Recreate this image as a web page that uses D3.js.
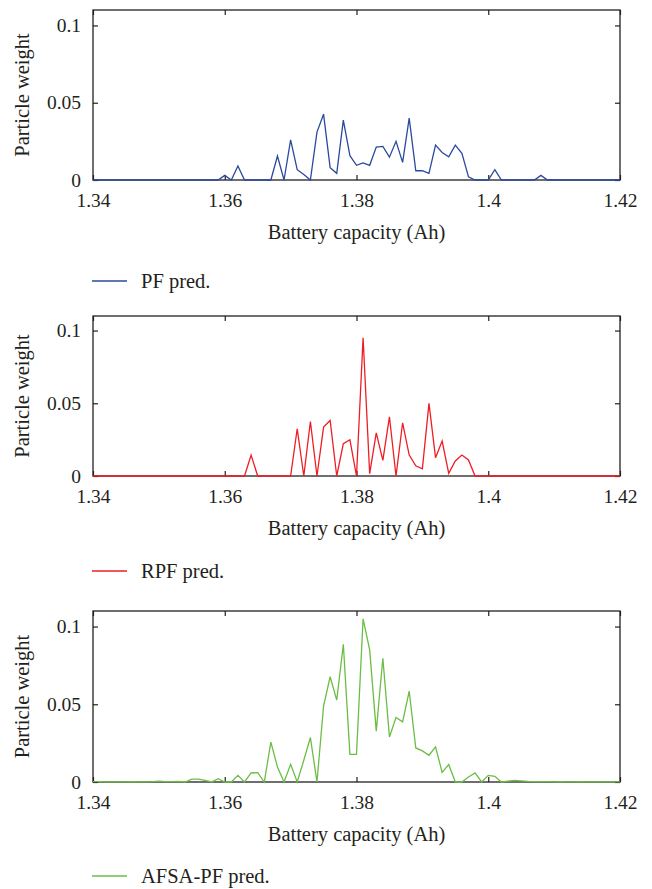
<!DOCTYPE html>
<html>
<head>
<meta charset="utf-8">
<script src="https://cdn.jsdelivr.net/npm/d3@7"></script>
<style>
  body { margin: 0; background: #fff; }
  text { font-family: "Liberation Serif", "DejaVu Serif", serif; fill: #231f20; }
</style>
</head>
<body>
<script>
// Particle weights, one value per 0.001 Ah from 1.340 to 1.420
var capStart = 1.34, capStep = 0.001;

var pfWeight = [
  0, 0, 0, 0, 0, 0, 0, 0, 0, 0,
  0, 0, 0, 0, 0, 0, 0, 0, 0, 0,
  0.003, 0, 0.009, 0, 0, 0, 0, 0, 0.0155, 0,
  0.026, 0.0067, 0.0035, 0, 0.031, 0.0426, 0.008, 0.0043, 0.0387, 0.0157,
  0.0095, 0.011, 0.0095, 0.0213, 0.0217, 0.0148, 0.025, 0.0114, 0.040, 0.006,
  0.006, 0.0043, 0.0226, 0.0178, 0.015, 0.0226, 0.0172, 0.002, 0, 0,
  0, 0.0067, 0, 0, 0, 0, 0, 0, 0.003, 0,
  0, 0, 0, 0, 0, 0, 0, 0, 0, 0, 0
];

var rpfWeight = [
  0, 0, 0, 0, 0, 0, 0, 0, 0, 0,
  0, 0, 0, 0, 0, 0, 0, 0, 0, 0,
  0, 0, 0, 0, 0.0144, 0, 0, 0, 0, 0,
  0, 0.0325, 0, 0.0375, 0, 0.0336, 0.0382, 0, 0.0222, 0.0249,
  0, 0.095, 0.0016, 0.0297, 0.0108, 0.0407, 0, 0.0366, 0.0144, 0.007,
  0.005, 0.0499, 0.0126, 0.024, 0.0018, 0.0103, 0.0144, 0.011, 0, 0,
  0, 0, 0, 0, 0, 0, 0, 0, 0, 0,
  0, 0, 0, 0, 0, 0, 0, 0, 0, 0, 0
];

var afsaWeight = [
  0.0002, 0.0002, 0.0001, 0.0001, 0.0001, 0.0001, 0.0002, 0.0001, 0.0001, 0.0002,
  0.0005, 0.0002, 0.0003, 0.0004, 0, 0.0019, 0.0019, 0.001, 0, 0.0021,
  0, 0, 0.0043, 0, 0.0058, 0.006, 0, 0.0256, 0.0097, 0,
  0.0114, 0, 0.014, 0.0286, 0, 0.0488, 0.0677, 0.0527, 0.0886, 0.0178,
  0.0178, 0.105, 0.085, 0.0327, 0.0796, 0.029, 0.0415, 0.0387, 0.0585, 0.0219,
  0.02, 0.0172, 0.0226, 0.0062, 0.0112, 0, 0, 0.0032, 0.0058, 0,
  0.0043, 0.0037, 0, 0.0005, 0.001, 0.0007, 0.0004, 0.0003, 0.0002, 0.0002,
  0.0001, 0.0002, 0.0001, 0.0001, 0.0002, 0.0001, 0.0001, 0.0001, 0.0001, 0.0001, 0.0001
];

var xTicks = [1.34, 1.36, 1.38, 1.4, 1.42];
var yTicks = [0, 0.05, 0.1];
var seriesNames = ["PF pred.", "RPF pred.", "AFSA-PF pred."];

var width = 652, height = 889;

// one panel per filter
var panels = [
  { name: seriesNames[0], values: pfWeight,   color: "#2b4a9e", top: 10,  bottom: 180, legendY: 281 },
  { name: seriesNames[1], values: rpfWeight,  color: "#ee1d23", top: 316, bottom: 476, legendY: 571 },
  { name: seriesNames[2], values: afsaWeight, color: "#6cbd45", top: 611, bottom: 782, legendY: 876 }
];

var svg = d3.select("body").append("svg")
    .attr("width", width)
    .attr("height", height);

var x = d3.scaleLinear()
    .domain([1.34, 1.42])
    .range([93, 620]);

var tickLen = 5;

panels.forEach(function(p) {
  var data = p.values.map(function(v, i) { return { cap: capStart + i * capStep, w: v }; });

  var y = d3.scaleLinear()
      .domain([0, 0.11])
      .range([p.bottom, p.top]);

  var g = svg.append("g");

  // bottom axis: inward ticks, labels below
  var xAxis = g.append("g")
      .attr("transform", "translate(0," + p.bottom + ")")
      .call(d3.axisBottom(x).tickValues(xTicks).tickSize(-tickLen).tickPadding(13)
        .tickFormat(function(d) { return String(+d.toFixed(2)); }));
  xAxis.select(".domain").remove();
  xAxis.selectAll("text").style("font-size", "19.5px").attr("font-family", null);

  // top ticks
  var topAxis = g.append("g")
      .attr("transform", "translate(0," + p.top + ")")
      .call(d3.axisTop(x).tickValues(xTicks).tickSize(-tickLen).tickFormat(""));
  topAxis.select(".domain").remove();

  // left axis
  var yAxis = g.append("g")
      .attr("transform", "translate(" + x.range()[0] + ",0)")
      .call(d3.axisLeft(y).tickValues(yTicks).tickSize(-tickLen).tickPadding(tickLen + 7)
        .tickFormat(function(d) { return String(d); }));
  yAxis.select(".domain").remove();
  yAxis.selectAll("text").style("font-size", "19.5px").attr("font-family", null);

  // right ticks
  var rAxis = g.append("g")
      .attr("transform", "translate(" + x.range()[1] + ",0)")
      .call(d3.axisRight(y).tickValues(yTicks).tickSize(-tickLen).tickFormat(""));
  rAxis.select(".domain").remove();

  g.selectAll(".tick line").attr("stroke", "#231f20").attr("stroke-width", 1.2);

  // frame
  g.append("rect")
      .attr("x", x.range()[0])
      .attr("y", p.top)
      .attr("width", x.range()[1] - x.range()[0])
      .attr("height", p.bottom - p.top)
      .attr("fill", "none")
      .attr("stroke", "#231f20")
      .attr("stroke-width", 1.3);

  // the series
  var line = d3.line()
      .x(function(d) { return x(d.cap); })
      .y(function(d) { return y(d.w); });

  g.append("path")
      .datum(data)
      .attr("fill", "none")
      .attr("stroke", p.color)
      .attr("stroke-width", 1.3)
      .attr("stroke-linejoin", "miter")
      .attr("d", line);

  // axis titles
  g.append("text")
      .attr("x", (x.range()[0] + x.range()[1]) / 2)
      .attr("y", p.bottom + 59)
      .attr("text-anchor", "middle")
      .style("font-size", "20.5px")
      .text("Battery capacity (Ah)");

  g.append("text")
      .attr("transform", "translate(29," + (p.top + p.bottom) / 2 + ") rotate(-90)")
      .attr("text-anchor", "middle")
      .style("font-size", "20.5px")
      .text("Particle weight");

  // legend
  g.append("line")
      .attr("x1", 92).attr("x2", 127)
      .attr("y1", p.legendY).attr("y2", p.legendY)
      .attr("stroke", p.color)
      .attr("stroke-width", 1.3);

  g.append("text")
      .attr("x", 141)
      .attr("y", p.legendY + 7)
      .style("font-size", "20.5px")
      .text(p.name);
});
</script>
</body>
</html>
